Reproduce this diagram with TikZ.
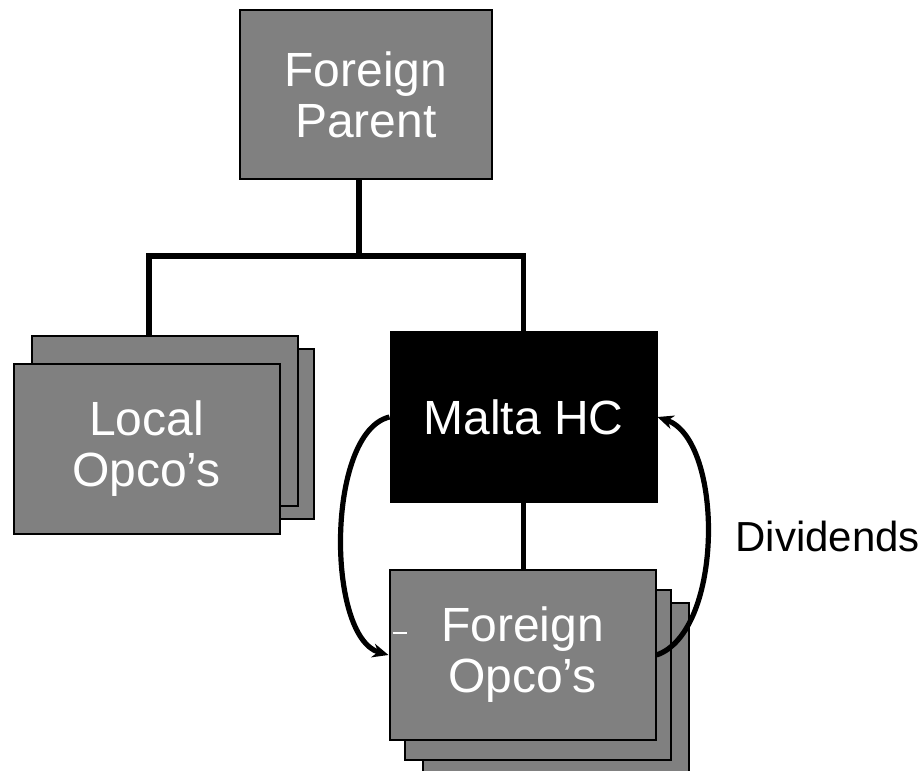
\documentclass[tikz,border=0pt]{standalone}
\usepackage{fontspec}
\setmainfont{Liberation Sans}
\usetikzlibrary{arrows.meta}
\begin{document}
\begin{tikzpicture}[x=0.5pt,y=-0.5pt,line join=miter,>={Stealth[length=8pt,width=7pt]},
  box/.style={draw,line width=1pt,fill=gray,text=white,align=center,inner sep=0pt,
    minimum width=133pt,minimum height=85pt,font=\fontsize{24}{25.5}\selectfont},
  link/.style={line width=2.6pt}]
 \useasboundingbox (0,0) rectangle (922,771);
 % boxes
 \node[box,minimum width=126pt,minimum height=84.5pt] (parent) at (366,94.5) {Foreign\\Parent};
 \node[box] (local3) at (180.5,433.5) {};
 \node[box] (local2) at (164.5,421) {};
 \node[box] (local) at (146.5,448.5) {Local\\Opco’s};
 \node[box,fill=black] (malta) at (523.5,417) {Malta HC};
 \node[box] (foreign3) at (555.5,688) {};
 \node[box] (foreign2) at (538,674.5) {};
 \node[box] (foreign) at (522.5,655) {Foreign\\Opco’s};
 \draw[white,line width=0.6pt] (393,633)--(407,633);
 % tree
 \coordinate (top) at (359,256);
 \coordinate (lbar) at (149,256);
 \coordinate (rbar) at (523.5,256);
 \draw[link] (parent.south -| top)--(top);
 \draw[link] (lbar |- local2.north)--(lbar)--(rbar)--(malta.north);
 \draw[link] (malta.south)--(malta.south |- foreign.north);
 % flows
 \draw[link,->] (malta.west) .. controls (326,432) and (326,637) .. (foreign.west);
 \draw[link,->] (foreign.east) .. controls (724,632) and (724,440) .. (malta.east);
 \node[anchor=base west,inner sep=0pt,font=\fontsize{21}{23}\selectfont] (div) at (735,551) {Dividends};
\end{tikzpicture}
\end{document}
